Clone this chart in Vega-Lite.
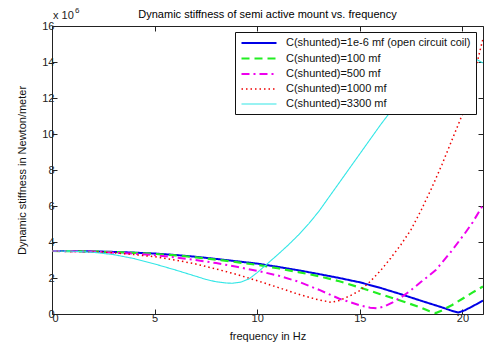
{
  "$schema": "https://vega.github.io/schema/vega-lite/v6.json",
  "width": 431,
  "height": 288,
  "autosize": {"type": "none"},
  "padding": {"left": 52, "top": 26, "right": 1, "bottom": 38},
  "background": "white",
  "title": {"text": "Dynamic stiffness of semi active mount vs. frequency", "fontSize": 11, "font": "Liberation Sans", "fontWeight": "normal", "color": "#000", "offset": -13, "anchor": "middle"},
  "config": {
    "view": {"stroke": null},
    "axis": {"labelFont": "Liberation Sans", "titleFont": "Liberation Sans", "labelFontSize": 11, "titleFontSize": 11, "titleFontWeight": "normal", "labelColor": "#222", "titleColor": "#111", "domainColor": "#222", "tickColor": "#222", "grid": false, "tickSize": -5, "labelPadding": 3},
    "legend": {"title": null, "fillColor": "white", "strokeColor": "#111", "padding": 5, "labelFont": "Liberation Sans", "labelFontSize": 11, "labelColor": "#111", "labelLimit": 400, "symbolType": "M-1,0H6", "symbolSize": 100, "rowPadding": 4, "labelOffset": 33}
  },
  "datasets": {
    "curves": [
      {"s": "C(shunted)=1e-6 mf (open circuit coil)", "f": 0, "k": 3.5},
      {"s": "C(shunted)=1e-6 mf (open circuit coil)", "f": 1, "k": 3.5},
      {"s": "C(shunted)=1e-6 mf (open circuit coil)", "f": 2, "k": 3.48},
      {"s": "C(shunted)=1e-6 mf (open circuit coil)", "f": 3, "k": 3.45},
      {"s": "C(shunted)=1e-6 mf (open circuit coil)", "f": 4, "k": 3.41},
      {"s": "C(shunted)=1e-6 mf (open circuit coil)", "f": 5, "k": 3.36},
      {"s": "C(shunted)=1e-6 mf (open circuit coil)", "f": 6, "k": 3.28},
      {"s": "C(shunted)=1e-6 mf (open circuit coil)", "f": 7, "k": 3.18},
      {"s": "C(shunted)=1e-6 mf (open circuit coil)", "f": 8, "k": 3.06},
      {"s": "C(shunted)=1e-6 mf (open circuit coil)", "f": 9, "k": 2.93},
      {"s": "C(shunted)=1e-6 mf (open circuit coil)", "f": 10, "k": 2.8},
      {"s": "C(shunted)=1e-6 mf (open circuit coil)", "f": 11, "k": 2.62},
      {"s": "C(shunted)=1e-6 mf (open circuit coil)", "f": 12, "k": 2.43},
      {"s": "C(shunted)=1e-6 mf (open circuit coil)", "f": 13, "k": 2.22},
      {"s": "C(shunted)=1e-6 mf (open circuit coil)", "f": 14, "k": 2.0},
      {"s": "C(shunted)=1e-6 mf (open circuit coil)", "f": 15, "k": 1.76},
      {"s": "C(shunted)=1e-6 mf (open circuit coil)", "f": 16, "k": 1.45},
      {"s": "C(shunted)=1e-6 mf (open circuit coil)", "f": 17, "k": 1.1},
      {"s": "C(shunted)=1e-6 mf (open circuit coil)", "f": 18, "k": 0.73},
      {"s": "C(shunted)=1e-6 mf (open circuit coil)", "f": 19, "k": 0.37},
      {"s": "C(shunted)=1e-6 mf (open circuit coil)", "f": 19.5, "k": 0.17},
      {"s": "C(shunted)=1e-6 mf (open circuit coil)", "f": 19.8, "k": 0.08},
      {"s": "C(shunted)=1e-6 mf (open circuit coil)", "f": 20.1, "k": 0.2},
      {"s": "C(shunted)=1e-6 mf (open circuit coil)", "f": 20.5, "k": 0.43},
      {"s": "C(shunted)=1e-6 mf (open circuit coil)", "f": 21, "k": 0.75},

      {"s": "C(shunted)=100 mf", "f": 0, "k": 3.5},
      {"s": "C(shunted)=100 mf", "f": 2, "k": 3.48},
      {"s": "C(shunted)=100 mf", "f": 4, "k": 3.4},
      {"s": "C(shunted)=100 mf", "f": 5, "k": 3.34},
      {"s": "C(shunted)=100 mf", "f": 6, "k": 3.26},
      {"s": "C(shunted)=100 mf", "f": 7, "k": 3.15},
      {"s": "C(shunted)=100 mf", "f": 8, "k": 3.02},
      {"s": "C(shunted)=100 mf", "f": 9, "k": 2.88},
      {"s": "C(shunted)=100 mf", "f": 10, "k": 2.73},
      {"s": "C(shunted)=100 mf", "f": 11, "k": 2.54},
      {"s": "C(shunted)=100 mf", "f": 12, "k": 2.33},
      {"s": "C(shunted)=100 mf", "f": 13, "k": 2.1},
      {"s": "C(shunted)=100 mf", "f": 14, "k": 1.82},
      {"s": "C(shunted)=100 mf", "f": 15, "k": 1.47},
      {"s": "C(shunted)=100 mf", "f": 16, "k": 1.1},
      {"s": "C(shunted)=100 mf", "f": 17, "k": 0.74},
      {"s": "C(shunted)=100 mf", "f": 18, "k": 0.35},
      {"s": "C(shunted)=100 mf", "f": 18.4, "k": 0.15},
      {"s": "C(shunted)=100 mf", "f": 18.7, "k": 0.05},
      {"s": "C(shunted)=100 mf", "f": 19, "k": 0.2},
      {"s": "C(shunted)=100 mf", "f": 19.5, "k": 0.5},
      {"s": "C(shunted)=100 mf", "f": 20, "k": 0.85},
      {"s": "C(shunted)=100 mf", "f": 20.5, "k": 1.2},
      {"s": "C(shunted)=100 mf", "f": 21, "k": 1.53},

      {"s": "C(shunted)=500 mf", "f": 0, "k": 3.5},
      {"s": "C(shunted)=500 mf", "f": 2, "k": 3.47},
      {"s": "C(shunted)=500 mf", "f": 4, "k": 3.35},
      {"s": "C(shunted)=500 mf", "f": 5, "k": 3.27},
      {"s": "C(shunted)=500 mf", "f": 6, "k": 3.15},
      {"s": "C(shunted)=500 mf", "f": 7, "k": 3.0},
      {"s": "C(shunted)=500 mf", "f": 8, "k": 2.83},
      {"s": "C(shunted)=500 mf", "f": 9, "k": 2.62},
      {"s": "C(shunted)=500 mf", "f": 10, "k": 2.4},
      {"s": "C(shunted)=500 mf", "f": 11, "k": 2.14},
      {"s": "C(shunted)=500 mf", "f": 12, "k": 1.8},
      {"s": "C(shunted)=500 mf", "f": 13, "k": 1.35},
      {"s": "C(shunted)=500 mf", "f": 14, "k": 0.85},
      {"s": "C(shunted)=500 mf", "f": 15, "k": 0.48},
      {"s": "C(shunted)=500 mf", "f": 15.5, "k": 0.35},
      {"s": "C(shunted)=500 mf", "f": 15.85, "k": 0.32},
      {"s": "C(shunted)=500 mf", "f": 16.2, "k": 0.42},
      {"s": "C(shunted)=500 mf", "f": 16.6, "k": 0.65},
      {"s": "C(shunted)=500 mf", "f": 17, "k": 0.92},
      {"s": "C(shunted)=500 mf", "f": 17.4, "k": 1.24},
      {"s": "C(shunted)=500 mf", "f": 18, "k": 1.8},
      {"s": "C(shunted)=500 mf", "f": 18.7, "k": 2.44},
      {"s": "C(shunted)=500 mf", "f": 19.4, "k": 3.4},
      {"s": "C(shunted)=500 mf", "f": 20.1, "k": 4.45},
      {"s": "C(shunted)=500 mf", "f": 20.5, "k": 5.1},
      {"s": "C(shunted)=500 mf", "f": 21, "k": 6.05},

      {"s": "C(shunted)=1000 mf", "f": 0, "k": 3.5},
      {"s": "C(shunted)=1000 mf", "f": 2, "k": 3.45},
      {"s": "C(shunted)=1000 mf", "f": 3, "k": 3.4},
      {"s": "C(shunted)=1000 mf", "f": 4, "k": 3.3},
      {"s": "C(shunted)=1000 mf", "f": 5, "k": 3.18},
      {"s": "C(shunted)=1000 mf", "f": 6, "k": 3.0},
      {"s": "C(shunted)=1000 mf", "f": 7, "k": 2.78},
      {"s": "C(shunted)=1000 mf", "f": 8, "k": 2.5},
      {"s": "C(shunted)=1000 mf", "f": 9, "k": 2.2},
      {"s": "C(shunted)=1000 mf", "f": 10, "k": 1.85},
      {"s": "C(shunted)=1000 mf", "f": 11, "k": 1.48},
      {"s": "C(shunted)=1000 mf", "f": 12, "k": 1.1},
      {"s": "C(shunted)=1000 mf", "f": 13, "k": 0.78},
      {"s": "C(shunted)=1000 mf", "f": 13.6, "k": 0.65},
      {"s": "C(shunted)=1000 mf", "f": 14, "k": 0.75},
      {"s": "C(shunted)=1000 mf", "f": 14.5, "k": 1.0},
      {"s": "C(shunted)=1000 mf", "f": 15, "k": 1.3},
      {"s": "C(shunted)=1000 mf", "f": 15.5, "k": 1.8},
      {"s": "C(shunted)=1000 mf", "f": 16, "k": 2.4},
      {"s": "C(shunted)=1000 mf", "f": 16.5, "k": 3.1},
      {"s": "C(shunted)=1000 mf", "f": 17, "k": 3.85},
      {"s": "C(shunted)=1000 mf", "f": 17.5, "k": 4.7},
      {"s": "C(shunted)=1000 mf", "f": 18, "k": 5.8},
      {"s": "C(shunted)=1000 mf", "f": 18.5, "k": 7.0},
      {"s": "C(shunted)=1000 mf", "f": 19, "k": 8.3},
      {"s": "C(shunted)=1000 mf", "f": 19.5, "k": 9.7},
      {"s": "C(shunted)=1000 mf", "f": 20, "k": 11.1},
      {"s": "C(shunted)=1000 mf", "f": 20.5, "k": 13.0},
      {"s": "C(shunted)=1000 mf", "f": 21, "k": 15.3},

      {"s": "C(shunted)=3300 mf", "f": 0, "k": 3.5},
      {"s": "C(shunted)=3300 mf", "f": 1, "k": 3.49},
      {"s": "C(shunted)=3300 mf", "f": 2, "k": 3.43},
      {"s": "C(shunted)=3300 mf", "f": 3, "k": 3.3},
      {"s": "C(shunted)=3300 mf", "f": 4, "k": 3.08},
      {"s": "C(shunted)=3300 mf", "f": 5, "k": 2.78},
      {"s": "C(shunted)=3300 mf", "f": 6, "k": 2.45},
      {"s": "C(shunted)=3300 mf", "f": 7, "k": 2.1},
      {"s": "C(shunted)=3300 mf", "f": 7.5, "k": 1.92},
      {"s": "C(shunted)=3300 mf", "f": 8, "k": 1.79},
      {"s": "C(shunted)=3300 mf", "f": 8.5, "k": 1.72},
      {"s": "C(shunted)=3300 mf", "f": 8.8, "k": 1.71},
      {"s": "C(shunted)=3300 mf", "f": 9.2, "k": 1.77},
      {"s": "C(shunted)=3300 mf", "f": 9.6, "k": 1.95},
      {"s": "C(shunted)=3300 mf", "f": 10, "k": 2.3},
      {"s": "C(shunted)=3300 mf", "f": 10.5, "k": 2.8},
      {"s": "C(shunted)=3300 mf", "f": 11, "k": 3.3},
      {"s": "C(shunted)=3300 mf", "f": 11.5, "k": 3.82},
      {"s": "C(shunted)=3300 mf", "f": 12, "k": 4.38},
      {"s": "C(shunted)=3300 mf", "f": 12.5, "k": 5.0},
      {"s": "C(shunted)=3300 mf", "f": 13, "k": 5.7},
      {"s": "C(shunted)=3300 mf", "f": 13.5, "k": 6.5},
      {"s": "C(shunted)=3300 mf", "f": 14, "k": 7.3},
      {"s": "C(shunted)=3300 mf", "f": 15, "k": 8.9},
      {"s": "C(shunted)=3300 mf", "f": 16, "k": 10.5},
      {"s": "C(shunted)=3300 mf", "f": 16.5, "k": 11.25},
      {"s": "C(shunted)=3300 mf", "f": 17, "k": 11.95},
      {"s": "C(shunted)=3300 mf", "f": 17.5, "k": 12.6},
      {"s": "C(shunted)=3300 mf", "f": 18, "k": 13.2},
      {"s": "C(shunted)=3300 mf", "f": 18.5, "k": 13.7},
      {"s": "C(shunted)=3300 mf", "f": 19, "k": 14.1},
      {"s": "C(shunted)=3300 mf", "f": 19.5, "k": 14.35},
      {"s": "C(shunted)=3300 mf", "f": 20, "k": 14.4},
      {"s": "C(shunted)=3300 mf", "f": 20.5, "k": 14.25},
      {"s": "C(shunted)=3300 mf", "f": 21, "k": 13.95}
    ]
  },
  "layer": [
    {
      "data": {"name": "curves"},
      "mark": {"type": "line", "clip": true, "strokeCap": "butt"},
      "encoding": {
        "x": {"field": "f", "type": "quantitative", "scale": {"domain": [0, 21], "nice": false, "zero": false}, "axis": {"values": [0, 5, 10, 15, 20], "title": "frequency in Hz", "titlePadding": 7}},
        "y": {"field": "k", "type": "quantitative", "scale": {"domain": [0, 16], "nice": false}, "axis": {"values": [0, 2, 4, 6, 8, 10, 12, 14, 16], "title": "Dynamic stiffness in Newton/meter", "titlePadding": 14}},
        "color": {"field": "s", "type": "nominal", "sort": null,
          "scale": {"domain": ["C(shunted)=1e-6 mf (open circuit coil)", "C(shunted)=100 mf", "C(shunted)=500 mf", "C(shunted)=1000 mf", "C(shunted)=3300 mf"], "range": ["#0000e6", "#22ee22", "#ee00ee", "#ee0000", "#33e6e6"]},
          "legend": {"orient": "none", "legendX": 183, "legendY": 6, "fillColor": "#ffffff", "zindex": 5}},
        "strokeDash": {"field": "s", "type": "nominal", "sort": null,
          "scale": {"domain": ["C(shunted)=1e-6 mf (open circuit coil)", "C(shunted)=100 mf", "C(shunted)=500 mf", "C(shunted)=1000 mf", "C(shunted)=3300 mf"], "range": [[1, 0], [8, 5], [8, 4, 2, 4], [1.5, 3], [1, 0]]},
          "legend": {"orient": "none", "legendX": 183, "legendY": 6, "fillColor": "#ffffff", "zindex": 5}},
        "strokeWidth": {"field": "s", "type": "nominal", "sort": null,
          "scale": {"type": "ordinal", "domain": ["C(shunted)=1e-6 mf (open circuit coil)", "C(shunted)=100 mf", "C(shunted)=500 mf", "C(shunted)=1000 mf", "C(shunted)=3300 mf"], "range": [2, 2.2, 2, 1.5, 1.1]},
          "legend": {"orient": "none", "legendX": 183, "legendY": 6, "fillColor": "#ffffff", "zindex": 5}}
      }
    },
    {
      "data": {"values": [{"f": 0, "k": 16, "t": "x 10"}]},
      "mark": {"type": "text", "align": "left", "baseline": "alphabetic", "dx": 1, "dy": -7, "font": "Liberation Sans", "fontSize": 11, "color": "#222"},
      "encoding": {"x": {"field": "f", "type": "quantitative", "axis": null}, "y": {"field": "k", "type": "quantitative", "axis": null}, "text": {"field": "t"}}
    },
    {
      "data": {"values": [{"f": 0, "k": 16, "t": "6"}]},
      "mark": {"type": "text", "align": "left", "baseline": "alphabetic", "dx": 23, "dy": -13, "font": "Liberation Sans", "fontSize": 8, "color": "#222"},
      "encoding": {"x": {"field": "f", "type": "quantitative", "axis": null}, "y": {"field": "k", "type": "quantitative", "axis": null}, "text": {"field": "t"}}
    },
    {
      "data": {"values": [{"f": 0, "k": 0}, {"f": 21, "k": 16}]},
      "mark": {"type": "point", "opacity": 0},
      "encoding": {
        "x": {"field": "f", "type": "quantitative", "axis": {"orient": "top", "values": [0, 5, 10, 15, 20], "labels": false, "title": null}},
        "y": {"field": "k", "type": "quantitative", "axis": {"orient": "right", "values": [0, 2, 4, 6, 8, 10, 12, 14, 16], "labels": false, "title": null}}
      }
    }
  ],
  "resolve": {"axis": {"x": "independent", "y": "independent"}}
}
